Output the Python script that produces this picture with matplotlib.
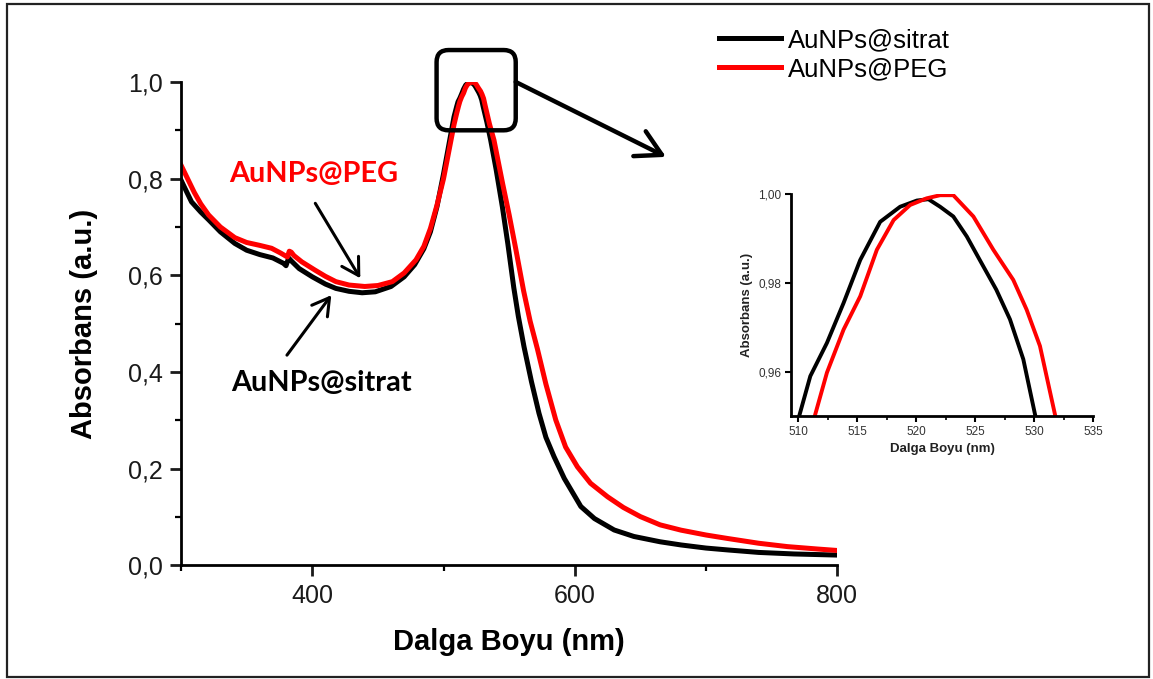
import numpy as np
import matplotlib.pyplot as plt
from matplotlib.patches import FancyBboxPatch, Rectangle
from matplotlib.ticker import MultipleLocator, FuncFormatter

plt.rcParams['font.family'] = ['Liberation Sans', 'DejaVu Sans']

# UV-Vis spectra (wavelength nm, absorbance normalised)
wl_sitrat = [300, 303, 308, 315, 321, 330, 341, 350, 360, 370, 378, 380, 382, 384, 390,
             400, 410, 418, 428, 438, 448, 460, 470, 478, 485, 490, 495, 500, 505, 508,
             510.14, 511.04, 512.45, 513.86, 515.27, 516.96, 518.65, 520.07, 521.05, 522.04,
             523.16, 524.3, 525.4, 526.8, 527.96, 529.09, 530.08, 533, 535.9, 540,
             544.8, 549, 553.5, 557, 561.3, 567, 572.7, 578, 584.2, 592,
             604.6, 615, 630, 645, 665, 681, 700, 717, 740, 767, 800]
abs_sitrat = [0.797, 0.780, 0.752, 0.731, 0.715, 0.690, 0.666, 0.652, 0.643, 0.636, 0.625, 0.620, 0.636, 0.630, 0.614,
              0.597, 0.582, 0.573, 0.567, 0.564, 0.566, 0.577, 0.597, 0.622, 0.655, 0.690, 0.742, 0.810, 0.884, 0.928,
              0.9504, 0.959, 0.9665, 0.9755, 0.9852, 0.9938, 0.9972, 0.9986, 0.9989, 0.9972,
              0.995, 0.9905, 0.9852, 0.9785, 0.9718, 0.9628, 0.9504, 0.917, 0.880, 0.820,
              0.742, 0.665, 0.575, 0.515, 0.4525, 0.380, 0.315, 0.265, 0.225, 0.180,
              0.122, 0.097, 0.0734, 0.060, 0.049, 0.0424, 0.036, 0.032, 0.027, 0.0238, 0.0215]

wl_peg = [300, 305, 310, 315, 321, 330, 341, 350, 360, 369, 376, 381, 382.5, 384, 386,
          392, 402, 410, 418, 428, 440, 450, 461, 470, 479, 485, 490, 495, 500, 505,
          508, 510, 511.46, 512.45, 513.86, 515.27, 516.68, 518.1, 519.5, 520.9,
          522.04, 523.16, 524.86, 526.55, 528.24, 529.37, 530.5, 531.77, 535, 538.4,
          545, 550, 555, 561, 566, 571.5, 578, 585.5, 593, 602,
          612, 625, 637, 650, 665, 681, 700, 716, 740, 762, 785, 800]
abs_peg = [0.828, 0.800, 0.772, 0.748, 0.725, 0.700, 0.678, 0.668, 0.662, 0.656, 0.646, 0.638, 0.650, 0.648, 0.641,
           0.628, 0.611, 0.598, 0.587, 0.580, 0.577, 0.579, 0.587, 0.605, 0.632, 0.660, 0.697, 0.745, 0.800, 0.870,
           0.912, 0.935, 0.9504, 0.9598, 0.9695, 0.977, 0.9875, 0.9942, 0.9976, 0.9991,
           0.9998, 0.9998, 0.995, 0.9875, 0.9807, 0.974, 0.9658, 0.9504, 0.913, 0.880,
           0.790, 0.725, 0.655, 0.568, 0.505, 0.448, 0.375, 0.301, 0.245, 0.204,
           0.170, 0.142, 0.120, 0.101, 0.084, 0.073, 0.063, 0.056, 0.046, 0.039, 0.034, 0.031]

# region of the peak shown in the inset (nm, absorbance)
zoom_box = (494.7, 555.0, 0.90, 1.066)

comma1 = FuncFormatter(lambda v, p: f'{v:.1f}'.replace('.', ','))
comma2 = FuncFormatter(lambda v, p: f'{v:.2f}'.replace('.', ','))

W, H = 11.53, 6.79
fig = plt.figure(figsize=(W, H), dpi=100)

# main spectrum
ax = fig.add_axes([0.157, 0.1672, 0.5692, 0.7121])
ax.plot(wl_sitrat, abs_sitrat, color='black', lw=3.6, label='AuNPs@sitrat')
ax.plot(wl_peg, abs_peg, color='red', lw=3.6, label='AuNPs@PEG')
ax.set_xlim(300, 800)
ax.set_ylim(0, 1.0)
for s in ['top', 'right']:
    ax.spines[s].set_visible(False)
for s in ['left', 'bottom']:
    ax.spines[s].set_linewidth(2)
ax.xaxis.set_major_locator(MultipleLocator(200))
ax.xaxis.set_minor_locator(MultipleLocator(100))
ax.yaxis.set_major_locator(MultipleLocator(0.2))
ax.yaxis.set_minor_locator(MultipleLocator(0.1))
ax.yaxis.set_major_formatter(comma1)
ax.tick_params(which='major', direction='out', length=8, width=2, labelsize=18, pad=5, colors='#1a1a1a')
ax.tick_params(which='minor', direction='out', length=4, width=1.6)
ax.set_xlabel('Dalga Boyu (nm)', fontsize=21, fontweight='bold')
ax.set_ylabel('Absorbans (a.u.)', fontsize=21, fontweight='bold')
ax.xaxis.set_label_coords(0.5, -0.13)
ax.yaxis.set_label_coords(-0.126, 0.5)

ax.legend(loc='upper left', bbox_to_anchor=(0.6236, 0.9585), bbox_transform=fig.transFigure,
          frameon=False, fontsize=18.5, handlelength=2.4, handletextpad=0.3,
          labelspacing=0.2, borderpad=0, borderaxespad=0)

# curve labels with pointers
ax.text(400.8, 0.81, 'AuNPs@PEG', color='red', fontsize=20.8, fontweight='bold',
        family='Lato', ha='center', va='center')
ax.text(406.9, 0.377, 'AuNPs@sitrat', color='black', fontsize=20.8, fontweight='bold',
        family='Lato', ha='center', va='center')
ax.annotate('', xy=(436.6, 0.594), xytext=(402.3, 0.749),
            arrowprops=dict(arrowstyle='->,head_length=0.6,head_width=0.35', lw=2.2,
                            color='black', mutation_scale=20, shrinkA=0, shrinkB=0))
ax.annotate('', xy=(414.5, 0.559), xytext=(380.7, 0.435),
            arrowprops=dict(arrowstyle='->,head_length=0.6,head_width=0.35', lw=2.2,
                            color='black', mutation_scale=20, shrinkA=0, shrinkB=0))

# rounded frame around the plasmon peak and arrow to the inset
px_x = ax.get_position().width * W * 100 / (800 - 300)
px_y = ax.get_position().height * H * 100 / 1.0
x0, x1, y0, y1 = zoom_box
box = FancyBboxPatch((x0, y0), x1 - x0, y1 - y0,
                     boxstyle=f'round,pad=0,rounding_size={12 / px_x}',
                     mutation_aspect=px_x / px_y, lw=3.2, ec='black', fc='none',
                     clip_on=False, zorder=5)
ax.add_patch(box)
ax.annotate('', xy=(669.5, 0.845), xytext=(x1, 1.0), annotation_clip=False,
            arrowprops=dict(arrowstyle='->,head_length=0.9,head_width=0.5', lw=3.2,
                            color='black', mutation_scale=20, shrinkA=0, shrinkB=0))

# inset: close-up of the peak maximum
axin = fig.add_axes([0.686, 0.3873, 0.262, 0.3265])
axin.plot(wl_sitrat, abs_sitrat, color='black', lw=2.8)
axin.plot(wl_peg, abs_peg, color='red', lw=2.8)
axin.set_xlim(509.4, 535)
axin.set_ylim(0.95, 1.0)
for s in ['top', 'right']:
    axin.spines[s].set_visible(False)
for s in ['left', 'bottom']:
    axin.spines[s].set_linewidth(2)
axin.xaxis.set_major_locator(MultipleLocator(5))
axin.xaxis.set_minor_locator(MultipleLocator(2.5))
axin.yaxis.set_major_locator(MultipleLocator(0.02))
axin.yaxis.set_major_formatter(comma2)
axin.tick_params(which='major', direction='out', length=4, width=1.5, labelsize=8.5,
                 labelcolor='#333333', pad=3)
axin.tick_params(which='minor', direction='out', length=3, width=1.2)
axin.set_xlabel('Dalga Boyu (nm)', fontsize=9.5, fontweight='bold', color='#222222')
axin.set_ylabel('Absorbans (a.u.)', fontsize=9.5, fontweight='bold', color='#222222')

# outer frame
fig.add_artist(Rectangle((7 / 1153, 2 / 679), 1142 / 1153, 673 / 679, transform=fig.transFigure,
                         fill=False, lw=1.6, ec='#222222'))

fig.savefig('out.png', dpi=100)
